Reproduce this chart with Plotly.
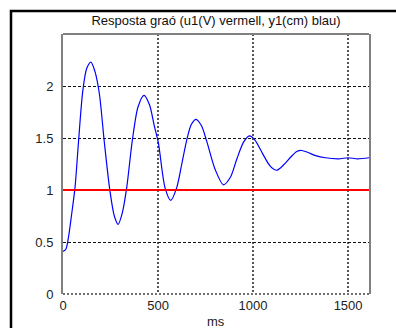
import plotly.graph_objects as go

# Data
t_ms = [0, 15, 30, 45, 63, 81, 104, 125, 147, 168, 191, 218, 247, 270, 290, 312, 335,
        365, 395, 426, 455, 480, 502, 537, 567, 598, 625, 651, 675, 700, 728, 756, 800,
        844, 880, 915, 950, 981, 1010, 1050, 1090, 1125, 1160, 1200, 1230, 1256, 1290,
        1330, 1380, 1450, 1500, 1550, 1610]
y1_cm = [0.41, 0.43, 0.56, 0.76, 1.02, 1.45, 1.95, 2.17, 2.23, 2.14, 1.93, 1.45, 0.99,
         0.75, 0.67, 0.78, 1.02, 1.48, 1.80, 1.91, 1.82, 1.62, 1.45, 1.02, 0.90, 1.02,
         1.25, 1.48, 1.63, 1.68, 1.62, 1.47, 1.20, 1.05, 1.12, 1.30, 1.46, 1.52, 1.48,
         1.35, 1.23, 1.19, 1.24, 1.32, 1.37, 1.38, 1.36, 1.33, 1.31, 1.30, 1.31, 1.30, 1.31]
u_t = [0, 1610]
u1_V = [1, 1]

x_ticks = [0, 500, 1000, 1500]
y_ticks = [0, 0.5, 1, 1.5, 2]

fig = go.Figure()
fig.add_trace(go.Scatter(x=t_ms, y=y1_cm, mode="lines",
                         line=dict(color="#0000ff", width=1.2, shape="spline", smoothing=0.8),
                         showlegend=False))
fig.add_trace(go.Scatter(x=u_t, y=u1_V, mode="lines",
                         line=dict(color="#ff0000", width=2), showlegend=False))

font = dict(family="Liberation Sans, Arial, sans-serif", size=13, color="#222222")

fig.update_layout(
    width=396, height=328,
    margin=dict(l=63, r=27, t=34, b=34, autoexpand=False),
    paper_bgcolor="white", plot_bgcolor="white",
    font=font,
    title=dict(text="Resposta graó (u1(V) vermell, y1(cm) blau)",
               x=0.5, xref="paper", xanchor="center",
               y=1 - 20 / 328, yref="container", yanchor="middle", pad=dict(t=0, b=0),
               font=dict(family="Liberation Sans, Arial, sans-serif", size=13, color="#111111")),
    xaxis=dict(range=[0, 1610], tickvals=x_ticks, ticktext=[str(v) for v in x_ticks],
               showgrid=True, gridcolor="#555555", griddash="2px,2px", gridwidth=1.5,
               zeroline=False, showline=False, ticks="", ticklabelstandoff=2,
               automargin=False),
    yaxis=dict(range=[0, 2.5], tickvals=y_ticks, ticktext=["0", "0.5", "1", "1.5", "2"],
               showgrid=True, gridcolor="#111111", griddash="3px,2px", gridwidth=1,
               zeroline=False, showline=True, linecolor="#808080", linewidth=2, mirror=True,
               ticks="", ticklabelstandoff=5, automargin=False),
    annotations=[
        dict(text="ms", xref="paper", yref="paper", x=0.5, y=-(321 - 294) / 260,
             xanchor="center", yanchor="middle", showarrow=False, font=font),
    ],
    shapes=[
        dict(type="line", xref="paper", yref="paper", x0=0, x1=1, y0=1, y1=1,
             line=dict(color="#808080", width=2)),
        dict(type="line", xref="paper", yref="paper", x0=0, x1=1, y0=0, y1=0,
             line=dict(color="#444444", width=1.5, dash="2px,2px")),
        dict(type="rect", xref="paper", yref="paper",
             x0=(11 - 63) / 306, x1=1.2, y0=-0.3, y1=1 + (34 - 11) / 260,
             line=dict(color="black", width=2.5)),
    ],
)

fig.write_html("out.html")
